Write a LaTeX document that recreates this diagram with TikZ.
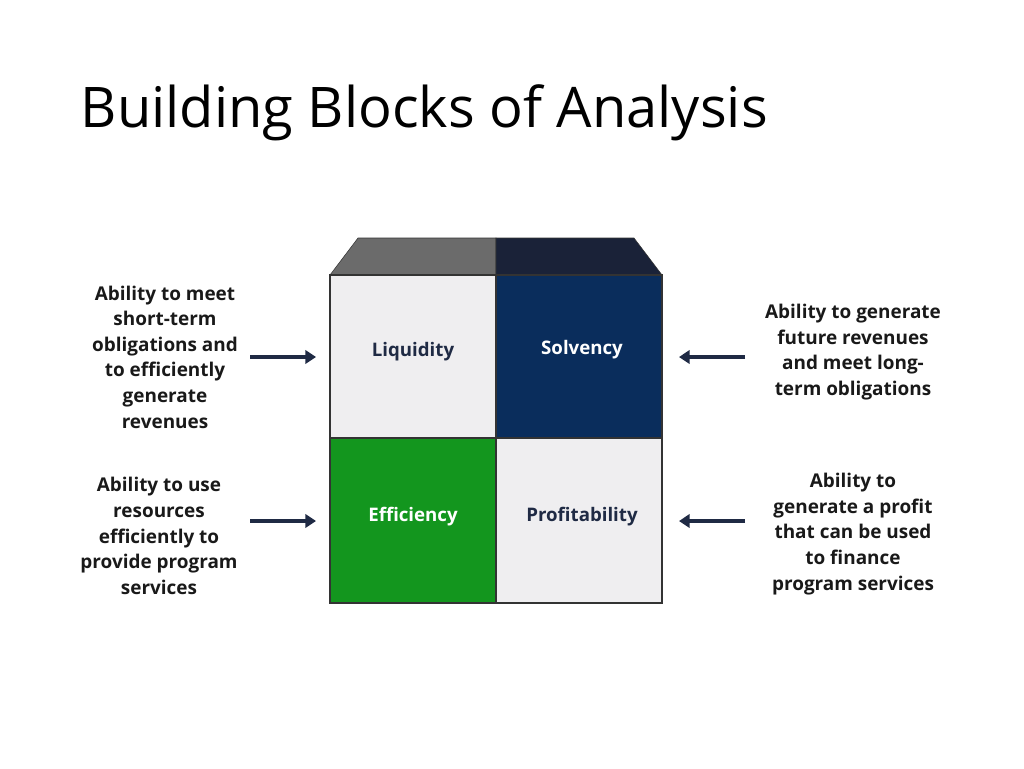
\documentclass[tikz,border=0pt]{standalone}
\usepackage{fontspec}
\setmainfont{Open Sans}
\usetikzlibrary{arrows.meta}
\definecolor{cellgray}{HTML}{EFEEF0}
\definecolor{navy}{HTML}{0A2D5C}
\definecolor{topnavy}{HTML}{1A2238}
\definecolor{topgray}{HTML}{6B6B6B}
\definecolor{effgreen}{HTML}{13961E}
\definecolor{arrowc}{HTML}{1F2A44}
\begin{document}
\begin{tikzpicture}[x=0.75pt,y=-0.75pt,
  cell/.style={draw=black!80,line width=1pt},
  lbl/.style={font=\bfseries\fontsize{14}{19}\selectfont,align=center},
  desc/.style={font=\bfseries\fontsize{14.2}{19.2}\selectfont,align=center,text=black!90},
  arr/.style={draw=arrowc,line width=3pt,-{Triangle[length=8pt,width=10pt]}}]
\useasboundingbox (0,0) rectangle (1024,768);
\node[anchor=west,font=\fontsize{42}{50}\selectfont] (title) at (76,113) {Building Blocks of Analysis};
\fill[topgray,draw=black!80] (330,275) -- (358,238) -- (496,238) -- (496,275) -- cycle;
\fill[topnavy,draw=black!80] (496,275) -- (496,238) -- (634,238) -- (662,275) -- cycle;
\draw[cell,fill=cellgray] (330,275) rectangle (496,438);
\draw[cell,fill=navy] (496,275) rectangle (662,438);
\draw[cell,fill=effgreen] (330,438) rectangle (496,603);
\draw[cell,fill=cellgray] (496,438) rectangle (662,603);
\node[lbl,text=arrowc] (liq) at (413,352) {Liquidity};
\node[lbl,text=white] (sol) at (582,350) {Solvency};
\node[lbl,text=white] (eff) at (413,517) {Efficiency};
\node[lbl,text=arrowc] (pro) at (582,517) {Profitability};
\node[desc] (d1) at (165,357) {Ability to meet\\short-term\\obligations and\\to efficiently\\generate\\revenues};
\node[desc] (d2) at (159,536) {Ability to use\\resources\\efficiently to\\provide program\\services};
\node[desc] (d3) at (853,352) {Ability to generate\\future revenues\\and meet long-\\term obligations};
\node[desc] (d4) at (853,534) {Ability to\\generate a profit\\that can be used\\to finance\\program services};
\coordinate (a1) at (250,357); \coordinate (b1) at (316,357);
\coordinate (a2) at (250,521); \coordinate (b2) at (316,521);
\coordinate (a3) at (745,357); \coordinate (b3) at (679,357);
\coordinate (a4) at (745,521); \coordinate (b4) at (679,521);
\draw[arr] (a1) -- (b1);
\draw[arr] (a2) -- (b2);
\draw[arr] (a3) -- (b3);
\draw[arr] (a4) -- (b4);
\end{tikzpicture}
\end{document}
